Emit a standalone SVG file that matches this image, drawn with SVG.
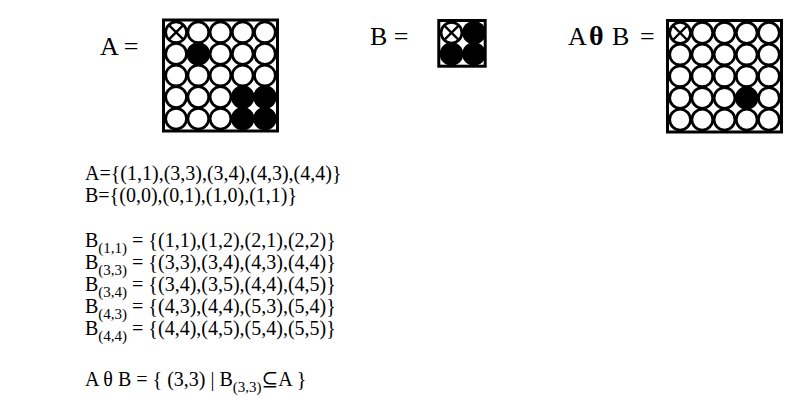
<svg xmlns="http://www.w3.org/2000/svg" width="797" height="409" viewBox="0 0 797 409">
<style>
text{font-family:"Liberation Serif","Times New Roman","DejaVu Serif",serif;fill:#000}
.lbl{font-size:26px}
.body{font-size:20px}
.sub{font-size:15px}
.frame{fill:#fff;stroke:#000;stroke-width:3}
.c{fill:#fff;stroke:#000;stroke-width:2.7}
.k{fill:#000;stroke:#000;stroke-width:2.7}
.x{stroke:#000;stroke-width:2.4;fill:none}
</style>
<defs>
<circle id="cw" r="10.4" class="c"/>
<circle id="cb" r="10.4" class="k"/>
<g id="cx"><circle r="10.4" class="c"/><path class="x" d="M-7.4,-7.4L7.4,7.4M7.4,-7.4L-7.4,7.4"/></g>
</defs>

<g id="label-A"><text class="lbl" x="100" y="55">A =</text></g>
<g id="label-B"><text class="lbl" x="370" y="45" font-size="25">B =</text></g>
<g id="label-AB"><text class="lbl" y="45"><tspan x="568">A</tspan><tspan x="589" font-weight="bold" font-size="28">θ</tspan><tspan x="612">B</tspan><tspan x="640">=</tspan></text></g>

<g id="grid-A">
<rect class="frame" x="163.5" y="20" width="114" height="111"/>
<use href="#cx" x="176.1" y="32.3"/><use href="#cw" x="198.3" y="32.3"/><use href="#cw" x="220.5" y="32.3"/><use href="#cw" x="242.7" y="32.3"/><use href="#cw" x="264.9" y="32.3"/>
<use href="#cw" x="176.1" y="53.9"/><use href="#cb" x="198.3" y="53.9"/><use href="#cw" x="220.5" y="53.9"/><use href="#cw" x="242.7" y="53.9"/><use href="#cw" x="264.9" y="53.9"/>
<use href="#cw" x="176.1" y="75.5"/><use href="#cw" x="198.3" y="75.5"/><use href="#cw" x="220.5" y="75.5"/><use href="#cw" x="242.7" y="75.5"/><use href="#cw" x="264.9" y="75.5"/>
<use href="#cw" x="176.1" y="97.1"/><use href="#cw" x="198.3" y="97.1"/><use href="#cw" x="220.5" y="97.1"/><use href="#cb" x="242.7" y="97.1"/><use href="#cb" x="264.9" y="97.1"/>
<use href="#cw" x="176.1" y="118.7"/><use href="#cw" x="198.3" y="118.7"/><use href="#cw" x="220.5" y="118.7"/><use href="#cb" x="242.7" y="118.7"/><use href="#cb" x="264.9" y="118.7"/>
</g>

<g id="grid-B">
<rect class="frame" x="438.8" y="20.5" width="46.4" height="45.7"/>
<circle cx="474" cy="32.7" r="11.8" fill="#000"/>
<circle cx="451.5" cy="54" r="11.8" fill="#000"/>
<circle cx="474" cy="54" r="11.8" fill="#000"/>
<circle cx="451.5" cy="32.7" r="10.4" class="c"/>
<path class="x" d="M444.1,25.3L458.9,40.1M458.9,25.3L444.1,40.1"/>
</g>

<g id="grid-AB">
<rect class="frame" x="667.5" y="20.5" width="114" height="111.5"/>
<use href="#cx" x="680.1" y="32.85"/><use href="#cw" x="702.3" y="32.85"/><use href="#cw" x="724.5" y="32.85"/><use href="#cw" x="746.7" y="32.85"/><use href="#cw" x="768.9" y="32.85"/>
<use href="#cw" x="680.1" y="54.55"/><use href="#cw" x="702.3" y="54.55"/><use href="#cw" x="724.5" y="54.55"/><use href="#cw" x="746.7" y="54.55"/><use href="#cw" x="768.9" y="54.55"/>
<use href="#cw" x="680.1" y="76.25"/><use href="#cw" x="702.3" y="76.25"/><use href="#cw" x="724.5" y="76.25"/><use href="#cw" x="746.7" y="76.25"/><use href="#cw" x="768.9" y="76.25"/>
<use href="#cw" x="680.1" y="97.95"/><use href="#cw" x="702.3" y="97.95"/><use href="#cw" x="724.5" y="97.95"/><use href="#cb" x="746.7" y="97.95"/><use href="#cw" x="768.9" y="97.95"/>
<use href="#cw" x="680.1" y="119.65"/><use href="#cw" x="702.3" y="119.65"/><use href="#cw" x="724.5" y="119.65"/><use href="#cw" x="746.7" y="119.65"/><use href="#cw" x="768.9" y="119.65"/>
</g>

<g id="connectors"></g>

<g id="definitions">
<text class="body" x="85" y="180">A={(1,1),(3,3),(3,4),(4,3),(4,4)}</text>
<text class="body" x="85" y="202">B={(0,0),(0,1),(1,0),(1,1)}</text>
<text class="body" x="85" y="247">B<tspan class="sub" dy="6">(1,1)</tspan><tspan dy="-6"> = {(1,1),(1,2),(2,1),(2,2)}</tspan></text>
<text class="body" x="85" y="269">B<tspan class="sub" dy="6">(3,3)</tspan><tspan dy="-6"> = {(3,3),(3,4),(4,3),(4,4)}</tspan></text>
<text class="body" x="85" y="291">B<tspan class="sub" dy="6">(3,4)</tspan><tspan dy="-6"> = {(3,4),(3,5),(4,4),(4,5)}</tspan></text>
<text class="body" x="85" y="313">B<tspan class="sub" dy="6">(4,3)</tspan><tspan dy="-6"> = {(4,3),(4,4),(5,3),(5,4)}</tspan></text>
<text class="body" x="85" y="335">B<tspan class="sub" dy="6">(4,4)</tspan><tspan dy="-6"> = {(4,4),(4,5),(5,4),(5,5)}</tspan></text>
<text class="body" x="85" y="386">A θ B = { (3,3) | B<tspan class="sub" dy="6">(3,3)</tspan><tspan dy="-6">⊆A }</tspan></text>
</g>
</svg>
